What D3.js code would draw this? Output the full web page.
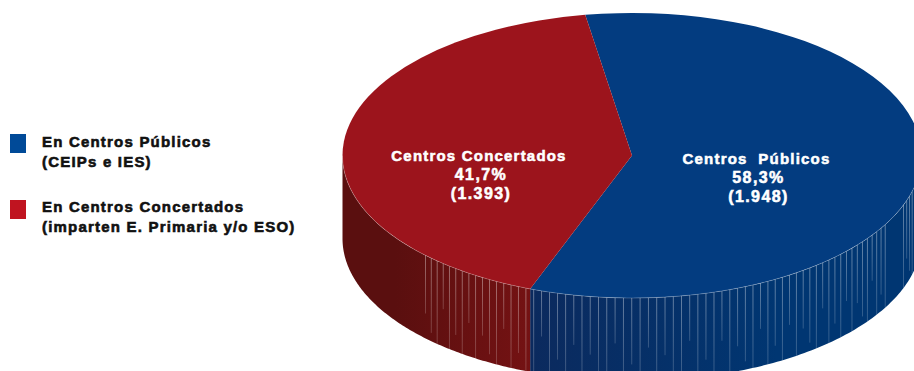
<!DOCTYPE html>
<html><head><meta charset="utf-8">
<script src="https://cdn.jsdelivr.net/npm/d3@7"></script>
<style>html,body{margin:0;padding:0;background:#fff}svg{display:block}
text{font-family:"Liberation Sans",Arial,sans-serif;font-weight:700}</style></head>
<body><svg id="c" width="914" height="371"></svg>
<script>
const categories = ["Centros Públicos", "Centros Concertados"];
const labelNames = ["Centros  Públicos", "Centros Concertados"];
const percents = ["58,3%", "41,7%"];
const counts = ["(1.948)", "(1.393)"];
const values = [1948, 1393];
const legendLines = [["En Centros Públicos", "(CEIPs e IES)"], ["En Centros Concertados", "(imparten E. Primaria y/o ESO)"]];
const topColors = ["#033c80", "#9c141c"];
const legendColors = ["#004a98", "#c01420"];
const wallStops = [["#0b2a5e", "#003672"], ["#5a0f0f", "#741213"]];

const cx = 632, cy = 155.5, rx = 289.5, ry = 142.5, depth = 83;
const svg = d3.select("#c");
const defs = svg.append("defs");

const deg = Math.PI / 180;
const start = -9.3 * deg;
const arcs = d3.pie().sort(null).value(d => d).startAngle(start).endAngle(start + 2 * Math.PI)(values);

const px = d3.scaleLinear().domain([-1, 1]).range([cx - rx, cx + rx]);
const py = d3.scaleLinear().domain([-1, 1]).range([cy - ry, cy + ry]);
const ex = a => px(Math.sin(a));
const ey = a => py(-Math.cos(a));

// side wall, only the front half (90 to 270 degrees) is visible
const front = arcs.map(d => [Math.max(d.startAngle, 90 * deg), Math.min(d.endAngle, 270 * deg)]);
const wallX = [[ex(200 * deg), ex(150 * deg)], [ex(235 * deg), ex(front[1][0])]];

front.forEach(([a0, a1], i) => {
  const id = "wall" + i;
  const g = defs.append("linearGradient").attr("id", id).attr("gradientUnits", "userSpaceOnUse")
    .attr("x1", wallX[i][0]).attr("x2", wallX[i][1]).attr("y1", 0).attr("y2", 0);
  g.append("stop").attr("offset", 0).attr("stop-color", wallStops[i][0]);
  g.append("stop").attr("offset", 1).attr("stop-color", wallStops[i][1]);
  const steps = d3.range(0, 121).map(k => a0 + (a1 - a0) * k / 120);
  const poly = steps.map(a => [ex(a), ey(a)]).concat(steps.slice().reverse().map(a => [ex(a), ey(a) + depth]));
  svg.append("path").attr("d", d3.line()(poly) + "Z").attr("fill", `url(#${id})`);
});

// thin highlight lines on the wall
const fade = defs.append("linearGradient").attr("id", "fade").attr("x1", 0).attr("y1", 0).attr("x2", 0).attr("y2", 1);
fade.append("stop").attr("offset", 0).attr("stop-color", "#fff").attr("stop-opacity", .42);
fade.append("stop").attr("offset", 1).attr("stop-color", "#fff").attr("stop-opacity", .2);
const lineBandsDeg = [[201.5, 227, 1.6], [119, 200, 1.65], [97, 112, 1.9]];
const lengthPattern = [1, .8, 1, .55, 1, .9, .7, 1, .6];
lineBandsDeg.forEach(([d0, d1, st]) => {
  d3.range(d0, d1, st).forEach((d, k) => {
    const a = d * deg, x = ex(a), y = ey(a);
    svg.append("rect").attr("x", x - .45).attr("y", y).attr("width", .9)
      .attr("height", depth * lengthPattern[k % lengthPattern.length])
      .attr("fill", "url(#fade)");
  });
});

// top surface
const arcGen = d3.arc().innerRadius(0).outerRadius(rx);
const topFace = svg.append("g").attr("transform", `translate(${cx},${cy}) scale(1,${ry / rx})`);
topFace.selectAll("path").data(arcs).join("path").attr("d", arcGen)
  .attr("fill", (d, i) => topColors[i]);
// rim
front.forEach(([a0, a1]) => {
  const pts = d3.range(0, 81).map(k => { const a = a0 + (a1 - a0) * k / 80; return [ex(a), ey(a)]; });
  svg.append("path").attr("d", d3.line()(pts)).attr("fill", "none").attr("stroke", "#fff").attr("stroke-opacity", .3).attr("stroke-width", .7);
});

// slice labels
const labelX = [756.5, 479], labelY = [164, 161];
[0, 1].forEach(i => {
  const addLine = (s, k, dx, size, spacing) => svg.append("text").attr("fill", "#fff").attr("text-anchor", "middle")
    .attr("x", labelX[i] + dx).attr("y", labelY[i] + k * 19)
    .attr("font-size", size).attr("letter-spacing", spacing)
    .attr("stroke", "#fff").attr("stroke-width", .55).style("white-space", "pre").text(s);
  addLine(labelNames[i], 0, 0, 15, 1.2);
  addLine(percents[i], 1, 2, 16, 1.4);
  addLine(counts[i], 2, 2, 16, 1.4);
});

// legend
const legY = d3.scalePoint().domain([0, 1]).range([134, 200]);
const legTextY = d3.scalePoint().domain([0, 1]).range([147, 212]);
[0, 1].forEach(i => {
  svg.append("rect").attr("x", 10).attr("y", legY(i)).attr("width", 16).attr("height", 19).attr("fill", legendColors[i]);
  legendLines[i].forEach((s, k) =>
    svg.append("text").attr("x", 42).attr("y", legTextY(i) + k * 20).attr("fill", "#111")
      .attr("font-size", 15).attr("letter-spacing", 1.2).attr("stroke", "#111").attr("stroke-width", .6).text(s));
});
</script></body></html>
